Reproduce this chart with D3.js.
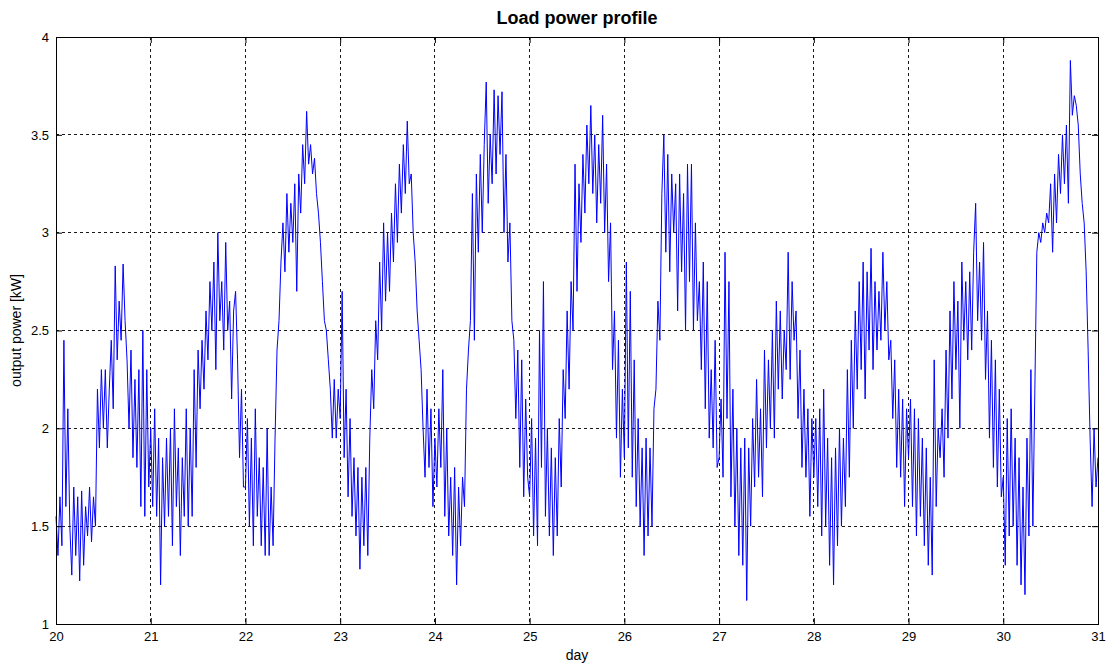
<!DOCTYPE html>
<html>
<head>
<meta charset="utf-8">
<script src="https://cdn.jsdelivr.net/npm/d3@7"></script>
<style>
  html, body { margin: 0; padding: 0; background: #fff; }
  svg { display: block; font-family: "Liberation Sans", Arial, Helvetica, sans-serif; }
</style>
</head>
<body>
<svg id="chart" width="1112" height="666"></svg>
<script>
// Half-hourly load readings (kW), one array per day, 48 samples each
const day20 = [1.55,1.35,1.65,1.4,2.45,1.6,2.1,1.5,1.25,1.7,1.35,1.65,1.22,1.68,1.3,1.6,1.45,1.7,1.42,1.65,1.5,2.2,1.9,2.3,2.0,2.3,1.9,2.2,2.45,2.1,2.83,2.35,2.65,2.45,2.84,2.55,2.35,2.0,2.4,1.85,2.25,1.8,2.3,1.6,2.5,1.55,2.3,1.7];
const day21 = [2.0,1.6,2.1,1.55,1.95,1.2,1.85,1.5,1.95,1.55,2.0,1.4,2.1,1.6,1.9,1.35,1.85,1.55,2.1,1.5,2.0,1.55,2.3,1.8,2.4,2.1,2.45,2.2,2.6,2.35,2.75,2.5,2.85,2.3,3.0,2.55,2.75,2.4,2.95,2.5,2.65,2.15,2.6,2.7,2.35,1.85,2.2,1.7];
const day22 = [1.7,2.05,1.5,1.95,1.4,2.1,1.55,1.85,1.4,1.8,1.35,2.0,1.35,1.7,1.4,1.95,2.4,2.55,2.85,3.05,2.8,3.2,2.9,3.15,2.95,3.25,2.7,3.3,3.1,3.45,3.25,3.62,3.35,3.45,3.3,3.38,3.2,3.1,2.95,2.75,2.55,2.5,2.35,2.2,1.95,2.25,1.95,2.2];
const day23 = [2.05,2.7,1.85,2.2,1.65,2.05,1.55,1.85,1.45,1.8,1.28,1.75,1.4,1.8,1.35,1.95,2.3,2.1,2.55,2.35,2.85,2.5,3.05,2.65,3.0,2.7,3.1,2.85,3.25,2.95,3.35,3.1,3.45,3.2,3.57,3.25,3.3,3.0,2.85,2.6,2.45,2.3,2.0,1.75,2.2,1.8,2.1,1.6];
const day24 = [1.95,1.7,2.1,1.8,2.3,1.55,2.0,1.45,1.75,1.35,1.8,1.2,1.7,1.4,1.75,1.6,2.2,2.4,2.55,3.2,2.45,3.3,2.9,3.4,3.0,3.45,3.77,3.15,3.5,3.25,3.73,3.3,3.7,3.4,3.72,3.0,3.4,2.85,3.05,2.55,2.45,2.05,2.4,1.8,2.35,1.65,2.15,1.75];
const day25 = [1.65,2.05,1.45,1.95,1.4,2.5,1.8,2.75,1.55,2.0,1.45,1.9,1.35,1.85,1.45,2.05,1.7,2.3,2.05,2.6,2.2,2.75,2.5,3.35,2.7,3.25,2.95,3.4,3.1,3.55,3.25,3.65,3.2,3.5,3.05,3.45,3.15,3.6,3.0,3.35,2.75,3.05,2.3,2.6,1.95,2.45,1.75,2.2];
const day26 = [1.85,2.85,1.9,2.7,1.75,2.35,1.6,2.05,1.5,1.9,1.35,1.95,1.45,1.9,1.5,2.1,2.2,2.65,2.45,3.2,3.5,2.9,3.4,2.8,3.3,3.0,3.25,2.6,3.3,2.8,3.2,2.5,3.35,2.75,3.35,2.5,3.05,2.55,2.75,2.3,2.85,2.1,2.75,1.95,2.3,1.9,2.45,1.8];
const day27 = [1.85,2.15,1.75,2.9,2.05,2.75,1.65,2.2,1.5,2.0,1.35,1.9,1.3,1.95,1.12,1.9,1.5,2.05,1.7,2.25,1.75,2.1,1.65,2.4,1.9,2.35,2.0,2.5,1.95,2.65,2.2,2.6,2.15,2.5,2.3,2.9,2.25,2.75,2.45,2.6,2.05,2.4,1.8,2.2,1.75,2.1,1.55,2.05];
const day28 = [1.75,2.05,1.6,2.1,1.45,2.2,1.5,1.95,1.3,1.85,1.2,1.9,1.4,2.0,1.5,1.95,1.6,2.3,1.75,2.45,2.0,2.6,2.2,2.75,2.3,2.85,2.15,2.8,2.4,2.92,2.3,2.75,2.4,2.7,2.45,2.9,2.5,2.75,2.35,2.45,2.05,2.35,1.8,2.2,1.75,2.15,1.6,2.1];
const day29 = [1.85,2.15,1.6,2.1,1.45,2.05,1.55,1.95,1.4,1.9,1.3,1.75,1.25,2.35,1.6,2.0,1.85,2.1,1.75,2.4,1.95,2.6,2.15,2.75,2.3,2.65,2.0,2.85,2.45,2.75,2.35,2.8,2.4,2.9,3.15,2.55,2.85,2.45,2.95,2.25,2.6,1.95,2.45,1.8,2.35,1.7,2.2,1.65];
const day30 = [1.75,1.3,2.05,1.45,2.1,1.5,1.95,1.3,1.85,1.2,1.7,1.15,1.95,1.45,2.3,1.5,2.2,2.9,3.0,2.95,3.05,3.0,3.1,3.05,3.25,2.9,3.3,3.05,3.4,3.2,3.5,3.25,3.55,3.15,3.88,3.6,3.7,3.65,3.55,3.3,3.15,3.05,2.8,2.4,1.95,1.6,2.0,1.7];
const lastReading = 1.85; // midnight at the start of day 31

const days = [20, 21, 22, 23, 24, 25, 26, 27, 28, 29, 30];
const dailySeries = [day20, day21, day22, day23, day24, day25, day26, day27, day28, day29, day30];
const xTicks = [20, 21, 22, 23, 24, 25, 26, 27, 28, 29, 30, 31];
const yTicks = [1, 1.5, 2, 2.5, 3, 3.5, 4];

// Flatten into (day, kW) samples
const samples = [];
dailySeries.forEach((vals, d) => {
  vals.forEach((v, i) => samples.push({ t: days[d] + i / vals.length, kw: v }));
});
samples.push({ t: 31, kw: lastReading });

const svg = d3.select("#chart");
const W = 1112, H = 666;
const margin = { top: 37, right: 14, bottom: 42, left: 56 };
const iw = W - margin.left - margin.right;
const ih = H - margin.top - margin.bottom;

const x = d3.scaleLinear().domain([20, 31]).range([0, iw]);
const y = d3.scaleLinear().domain([1, 4]).range([ih, 0]);

const g = svg.append("g").attr("transform", `translate(${margin.left},${margin.top})`);

// Dashed grid
const grid = g.append("g").attr("class", "grid");
grid.selectAll("line.vx").data(xTicks.slice(1, -1)).join("line")
  .attr("x1", d => x(d)).attr("x2", d => x(d))
  .attr("y1", 0).attr("y2", ih);
grid.selectAll("line.hy").data(yTicks.slice(1, -1)).join("line")
  .attr("x1", 0).attr("x2", iw)
  .attr("y1", d => y(d)).attr("y2", d => y(d));
grid.selectAll("line")
  .attr("stroke", "#000").attr("stroke-width", 0.9)
  .attr("stroke-dasharray", "3,3").attr("shape-rendering", "crispEdges");

// Load curve
g.append("path")
  .datum(samples)
  .attr("fill", "none")
  .attr("stroke", "#0000ff")
  .attr("stroke-width", 1)
  .attr("d", d3.line().x(d => x(d.t)).y(d => y(d.kw)));

// Axes with inward ticks on all four sides
const tick = 6;
const axB = g.append("g").attr("transform", `translate(0,${ih})`)
  .call(d3.axisBottom(x).tickValues(xTicks).tickFormat(d3.format("d")).tickSize(-tick).tickPadding(8));
const axL = g.append("g")
  .call(d3.axisLeft(y).tickValues(yTicks).tickFormat(d => d3.format("")(d)).tickSize(-tick).tickPadding(7));
const axT = g.append("g")
  .call(d3.axisTop(x).tickValues(xTicks).tickFormat("").tickSize(-tick));
const axR = g.append("g").attr("transform", `translate(${iw},0)`)
  .call(d3.axisRight(y).tickValues(yTicks).tickFormat("").tickSize(-tick));

[axB, axL, axT, axR].forEach(a => {
  a.select(".domain").attr("stroke", "#000").attr("stroke-width", 1);
  a.selectAll(".tick line").attr("stroke", "#000").attr("stroke-width", 1);
  a.selectAll("text").attr("fill", "#000").attr("font-size", 13)
    .attr("font-family", "'Liberation Sans', Arial, sans-serif");
});
g.selectAll(".domain").attr("shape-rendering", "crispEdges");

// Title and axis labels
svg.append("text")
  .attr("x", margin.left + iw / 2).attr("y", 24)
  .attr("text-anchor", "middle")
  .attr("font-size", 18).attr("font-weight", "bold")
  .text("Load power profile");

svg.append("text")
  .attr("x", margin.left + iw / 2).attr("y", 660)
  .attr("text-anchor", "middle")
  .attr("font-size", 14)
  .text("day");

svg.append("text")
  .attr("transform", `translate(21,${margin.top + ih / 2}) rotate(-90)`)
  .attr("text-anchor", "middle")
  .attr("font-size", 14)
  .text("output power [kW]");
</script>
</body>
</html>
